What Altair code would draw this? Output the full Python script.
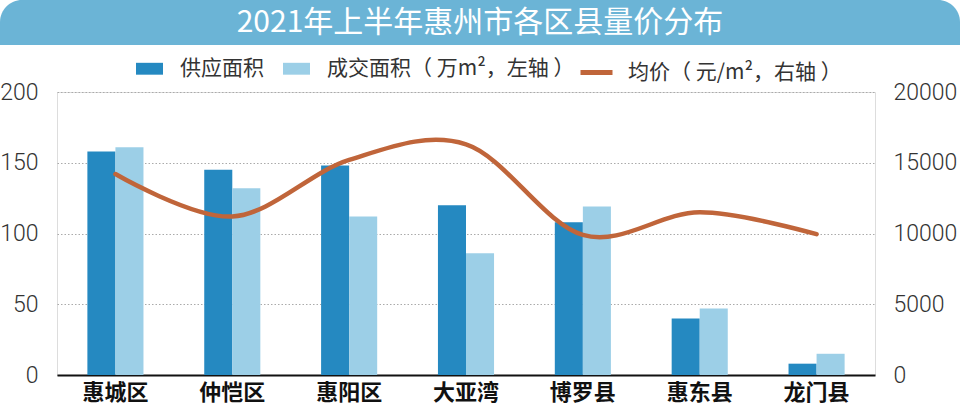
import altair as alt
import pandas as pd

categories = ["惠城区", "仲恺区", "惠阳区", "大亚湾", "博罗县", "惠东县", "龙门县"]
supply = [158, 145, 148, 120, 108, 40, 8]
deal = [161, 132, 112, 86, 119, 47, 15]
price = [14200, 11200, 15200, 16300, 9900, 11500, 9950]

s_supply = "供应面积"
s_deal = "成交面积（ 万m²，左轴 ）"
s_price = "均价（ 元/m²，右轴 ）"
title_text = "2021年上半年惠州市各区县量价分布"

bars_df = pd.DataFrame({
    "区县": categories * 2,
    "系列": [s_supply] * len(categories) + [s_deal] * len(categories),
    "面积": supply + deal,
})
line_df = pd.DataFrame({"区县": categories, "均价": price, "系列": [s_price] * len(categories)})

FONT = "Noto Sans CJK SC"
NUMFONT = "Roboto"

xenc = alt.X("区县:N", sort=categories,
             scale=alt.Scale(paddingInner=0.52, paddingOuter=0.26),
             axis=alt.Axis(title=None, labelAngle=0, ticks=False, labelPadding=7,
                           labelFontSize=22, labelFont=FONT, labelFontWeight="bold",
                           labelColor="#111111", domainColor="#111111", domainWidth=2))

one = pd.DataFrame({"k": [0]})

banner = alt.Chart(one).mark_rect(
    color="#6bb4d6", cornerRadiusTopLeft=22, cornerRadiusTopRight=22
).encode(x=alt.value(-57), x2=alt.value(903), y=alt.value(-92), y2=alt.value(-47))

title = alt.Chart(one).mark_text(
    color="#ffffff", fontSize=30, font=FONT, align="center", baseline="middle"
).encode(text=alt.value(title_text), x=alt.value(423), y=alt.value(-69))

bars = alt.Chart(bars_df).mark_bar().encode(
    x=xenc,
    xOffset=alt.XOffset("系列:N", sort=[s_supply, s_deal]),
    y=alt.Y("面积:Q", scale=alt.Scale(domain=[0, 200]),
            axis=alt.Axis(title=None, values=[0, 50, 100, 150, 200], format="d",
                          ticks=False, domain=False,
                          labelFontSize=23, labelFont=NUMFONT, labelFontWeight=300,
                          labelColor="#333333",
                          labelPadding=19, grid=True, gridColor="#aaaaaa",
                          gridDash=[1.5, 2], gridWidth=1)),
    color=alt.Color("系列:N", sort=[s_supply, s_deal],
                    scale=alt.Scale(domain=[s_supply, s_deal], range=["#2589c1", "#9ccfe7"]),
                    legend=alt.Legend(title=None, orient="none", direction="horizontal",
                                      legendX=78, legendY=-38, padding=0,
                                      symbolType="M-1,-0.44H1V0.44H-1Z", symbolSize=729,
                                      symbolOpacity=1, labelFontSize=21, labelFont=FONT,
                                      labelColor="#333333", labelOffset=16, columnPadding=18,
                                      labelLimit=400)),
)

line = alt.Chart(line_df).mark_line(interpolate="cardinal", strokeWidth=4.5, strokeCap="round").encode(
    x=xenc,
    y=alt.Y("均价:Q", scale=alt.Scale(domain=[0, 20000]),
            axis=alt.Axis(title=None, orient="right", values=[0, 5000, 10000, 15000, 20000],
                          format="d", ticks=False, domain=False, grid=False,
                          labelFontSize=23, labelFont=NUMFONT, labelFontWeight=300,
                          labelColor="#333333", labelPadding=18)),
    stroke=alt.Stroke("系列:N", scale=alt.Scale(domain=[s_price], range=["#c0653a"]),
                      legend=alt.Legend(title=None, orient="none", legendX=521, legendY=-38,
                                        padding=0, symbolType="stroke", symbolSize=1024,
                                        symbolStrokeWidth=5, labelFontSize=21, labelFont=FONT,
                                        labelColor="#333333", labelOffset=13, labelLimit=400)),
)

chart = alt.layer(banner, title, bars, line).resolve_scale(
    y="independent", color="independent", stroke="independent"
).properties(
    width=818, height=283,
    padding={"left": 57, "top": 92, "right": 85, "bottom": 31},
    autosize=alt.AutoSizeParams(type="none"),
).configure_view(stroke=None).configure(background="#ffffff")

chart.save("out.html", embed_options={"renderer": "svg", "actions": False})
